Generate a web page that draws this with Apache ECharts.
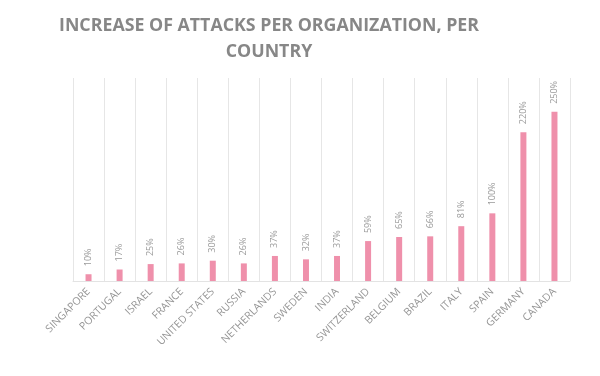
<!DOCTYPE html>
<html>
<head>
<meta charset="utf-8">
<script src="https://cdn.jsdelivr.net/npm/echarts@6/dist/echarts.min.js"></script>
<style>
  html, body { margin: 0; padding: 0; background: #fff; }
  #chart { width: 600px; height: 376px; }
</style>
</head>
<body>
<div id="chart"></div>
<script>
// categories and values (%)
const countries = ['SINGAPORE', 'PORTUGAL', 'ISRAEL', 'FRANCE', 'UNITED STATES', 'RUSSIA',
  'NETHERLANDS', 'SWEDEN', 'INDIA', 'SWITZERLAND', 'BELGIUM', 'BRAZIL', 'ITALY', 'SPAIN',
  'GERMANY', 'CANADA'];
const increase = [10, 17, 25, 26, 30, 26, 37, 32, 37, 59, 65, 66, 81, 100, 220, 250];

const chart = echarts.init(document.getElementById('chart'));

const option = {
  animation: false,
  title: {
    text: 'INCREASE OF ATTACKS PER ORGANIZATION, PER\nCOUNTRY',
    left: 264,
    top: 8,
    textAlign: 'center',
    textStyle: {
      fontFamily: 'Open Sans',
      fontWeight: 'bold',
      fontSize: 17.8,
      color: '#878787',
      lineHeight: 26,
    },
  },
  grid: {
    left: 73,
    right: 30,
    top: 78,
    bottom: 95,
  },
  xAxis: {
    type: 'category',
    data: countries,
    boundaryGap: true,
    axisLine: { lineStyle: { color: '#e3e3e3', width: 1 } },
    axisTick: { show: false },
    splitLine: { show: true, lineStyle: { color: '#e6e6e6', width: 1 } },
    axisLabel: {
      interval: 0,
      rotate: 45,
      margin: 9,
      fontFamily: 'Open Sans',
      fontSize: 10.5,
      color: '#959595',
    },
  },
  yAxis: {
    type: 'value',
    min: 0,
    max: 300,
    show: false,
    splitLine: { show: false },
  },
  series: [
    {
      type: 'bar',
      data: increase,
      barWidth: 6,
      itemStyle: { color: '#ef90ab' },
      label: {
        show: true,
        position: 'top',
        distance: 8,
        rotate: 90,
        align: 'left',
        verticalAlign: 'middle',
        formatter: (p) => p.value + '%',
        fontFamily: 'Open Sans',
        fontSize: 9,
        color: '#999999',
      },
    },
  ],
};

chart.setOption(option);
</script>
</body>
</html>
